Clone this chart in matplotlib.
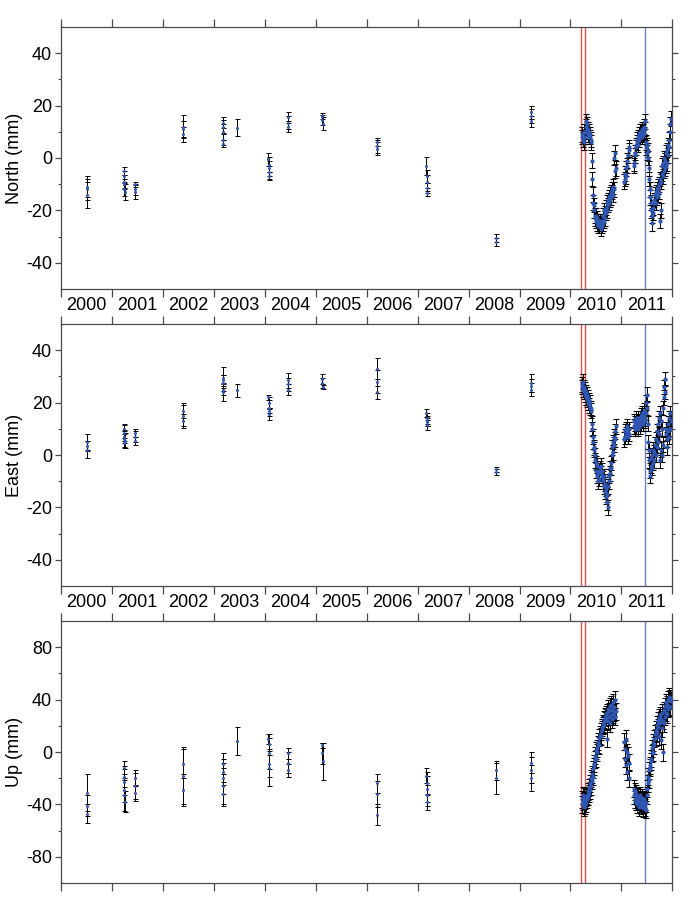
import numpy             as np
import matplotlib.pyplot as plt


# Campaign epochs (decimal years), shared by the three components
t_camp = [2000.509, 2000.512, 2000.515,
          2001.233, 2001.236, 2001.239, 2001.242, 2001.245, 2001.248,
          2001.447, 2001.450, 2001.453,
          2002.387, 2002.390, 2002.393,
          2003.172, 2003.175, 2003.178, 2003.181, 2003.184,
          2003.458,
          2004.072, 2004.075, 2004.078, 2004.081, 2004.084,
          2004.447, 2004.450, 2004.453,
          2005.127, 2005.130, 2005.133,
          2006.197, 2006.200, 2006.203,
          2007.172, 2007.175, 2007.178, 2007.181, 2007.184,
          2008.538, 2008.541,
          2009.227, 2009.230, 2009.233]

# Continuous station epochs (regular sampling)
t_seg_a  = np.round(np.arange(2010.22, 2010.895, 0.01), 2)
t_seg_b1 = np.round(np.arange(2011.06, 2011.155, 0.01), 2)
t_seg_b2 = np.round(np.arange(2011.24, 2011.975, 0.01), 2)

# North (mm)
north_camp = [-11, -14, -12,
              -5, -7, -9, -10, -12, -13,
              -10, -12, -13,
              12, 11, 9,
              13.5, 12, 10, 7, 5.5,
              11.6,
              -0.5, -2.5, -4, -5.5, -7,
              15.5, 13.5, 12,
              16, 14.5, 13,
              6, 4.5, 3.5,
              -3, -7, -9, -11.5, -13.5,
              -30.5, -32,
              17.5, 16, 14]
north_camp_err = [4, 5, 4,
                  1.5, 2, 2.5, 2, 2.5, 3,
                  1, 2, 2.5,
                  4.5, 3, 3,
                  2, 2.5, 3, 2, 1.5,
                  3.2,
                  2.5, 3, 3, 2.5, 1.5,
                  2, 2.5, 2,
                  1, 2, 2.5,
                  1.5, 2.5, 2.5,
                  3.5, 2.5, 2.5, 2, 1,
                  1.5, 1.5,
                  2.5, 2.5, 2]
north_a = [8, 9, 7, 8, 10, 6, 8,
           10, 12, 14, 11, 13, 11, 9, 10, 8, 9,
           8, 7, 6, -1, -8, -14, -17, -18, -20, -22,
           -23, -24, -22, -25, -23, -26, -24, -25, -26, -24,
           -27, -25, -26, -24, -25, -22, -24, -20, -23, -21,
           -19, -21, -17, -20, -18, -16, -15, -17, -14, -16,
           -13, -15, -12, -13, -11, -14, -12, 0, -5, 2,
           -4]
north_b1 = [-9, -8, -6, -7, -4, -3, -1, 1, 3, 4]
north_b2 = [-2, -3, 1, 2, 4,
            5, 6, 7, 5, 8, 7, 9, 8, 10, 9,
            10, 8, 11, 9, 10, 12, 9, 11, 14,
            6, 4, 5, 2, 3, 0,
            -4, -8, -12, -15, -17,
            -20, -22, -25, -19, -21, -17,
            -16, -14, -17, -13, -15, -12, -14, -11, -13,
            -10, -24, -8, -20, -9,
            -6, -3, -7, -2, -5, 0, -4, -1, 2, -3,
            3, -2, 5, 1, 7,
            4, 10, 13, 15]

# East (mm)
east_camp = [5, 3.5, 2,
             10, 8.5, 7, 6, 4.5, 5.5,
             8.5, 7, 5.5,
             17, 15, 13,
             29.5, 28.5, 27.5, 25, 24,
             24.8,
             22, 20, 18, 17, 15.5,
             28.5, 27, 25,
             29, 27.5, 26,
             33, 28, 24,
             16, 14, 12.5, 11.5, 13,
             -5.5, -6.5,
             27.5, 26.5, 25]
east_camp_err = [3, 2, 3.2,
                 2, 3, 2.5, 3, 2, 3,
                 1.5, 2, 1.5,
                 3, 4, 2.5,
                 4, 2, 3, 2, 3.5,
                 2.5,
                 1, 2, 3, 1, 2,
                 3, 2.5, 2,
                 2, 2, 0.8,
                 4, 4.5, 2.5,
                 1.5, 2, 1.5, 2, 2,
                 1, 1,
                 3.5, 2.5, 2.5]
east_a = [27, 26, 28, 25, 26, 24,
          25, 23, 24, 22, 23, 21, 22,
          20, 21, 19, 20, 18, 17, 18,
          12, 10, 7, 5, 3,
          2, 0, -2,
          -3, -6, -4, -8, -7, -10, -6, -9,
          -5, -7, -4, -8, -6, -9,
          -10, -12, -8, -14, -11, -16, -13, -18, -15, -20,
          -12, -8, -10, -5, -7, -3, -5,
          0, 3, 1, 5, 4, 7, 6, 9, 11]
east_b1 = [6, 9, 7, 10, 8, 11, 9, 7, 10, 8]
east_b2 = [11, 13, 10, 12, 14, 11, 13, 12, 10, 14, 12, 13, 11, 14, 12,
           15, 13, 16, 14, 12, 15, 17, 14, 13,
           16, 20, 23, 18, 12, 5, 2, -2, -6, -8,
           -4, -1, -5, 0, -3, 2, -2, 1,
           4, 0, 6, 3, 9, 5, 12, 8,
           14, -2, 16, 2, 13, 0, 10, 4,
           18, 22, 26, 29, 24, 8, 10,
           6, 3, 9, 12, 7, 14, 10, 16, 13]

# Up (mm)
up_camp = [-31, -41, -47,
           -12, -19, -23, -29, -33, -38,
           -20, -26, -31,
           -9, -18, -29,
           -9, -15, -20, -26, -32,
           8.5,
           10, 6, -1, -9, -12,
           -1, -8, -14,
           5, -1, -7,
           -24, -32, -48,
           -18, -24, -28, -33, -38,
           -14, -20,
           -8, -14, -20]
up_camp_err = [14, 8, 7,
               5, 8, 10, 9, 12, 8,
               6, 10, 6,
               11, 22, 12,
               8, 10, 12, 14, 9,
               10.7,
               4, 8, 12, 10, 14,
               4, 8, 5,
               2, 8, 14,
               7, 10, 8,
               6, 9, 10, 8, 6,
               7, 12,
               8, 10, 10]
up_a = [-36, -40, -33, -38, -42, -34, -37, -41, -35, -39, -33, -36,
        -34, -30, -32, -27, -29, -24, -26, -20, -22, -17, -19,
        -13, -9, -11, -6, -3, -5, 1, 3, 0, 6, 8, 5, 11,
        13, 16, 12, 19, 17, 22, 20, 25, 21, 27, 24, 29, 26,
        10, 30, 24, 33, 27, 31, 22, 35, 28, 36, 25, 32, 29, 38, 30, 34,
        27, 40, 31]
up_b1 = [8, 2, -5, 10, -10, 0, -15, -3, -8, -20]
up_b2 = [-28, -33, -30, -36, -32, -38, -34, -40, -35, -37, -42, -36, -39,
         -33, -38, -41, -35, -39, -43, -37, -40, -36, -42, -38, -44, -39,
         -33, -28, -24, -19, -21, -14, -10, -12, -5, -7, -1, 3, 0, 7,
         10, 5, 14, 11, 17,
         21, 15, 24, 19, 26, 12, 22, 28, 9, 25, 30, 18, 0, 24,
         32, 22, 35, 27, 38, 30, 36, 29, 40, 33, 42, 35, 41, 34, 39]

# Continuous formal errors (mm)
north_cont_err = 2.8
east_cont_err  = 2.8
up_cont_err    = 6.5

# Event markers
red_events  = [2010.21, 2010.29]
blue_events = [2011.47]
year_labels = [str(y) for y in range(2000, 2012)]

# Plotting parameters
blue_pt   = '#2f56b0'
spine_col = '#4a4a4a'

plt.rcParams['font.family'] = ['Liberation Sans', 'DejaVu Sans']
plt.rcParams['axes.unicode_minus'] = False
plt.rcParams['font.size'] = 13

t_cont = np.concatenate([t_seg_a, t_seg_b1, t_seg_b2])
panels = [('North (mm)',
           north_camp, north_camp_err, north_a + north_b1 + north_b2,
           north_cont_err, (-50, 50), 20, 10, True),
          ('East (mm)',
           east_camp, east_camp_err, east_a + east_b1 + east_b2,
           east_cont_err, (-50, 50), 20, 10, True),
          ('Up (mm)',
           up_camp, up_camp_err, up_a + up_b1 + up_b2,
           up_cont_err, (-100, 100), 40, 20, False)]
bottoms = [0.6828, 0.3567, 0.0307]

fig = plt.figure(figsize=(6.85, 9.11), dpi=100)
for (label, camp, camp_err, cont, cont_err, ylim, major, minor,
     show_years), bottom in zip(panels, bottoms):
    ax = fig.add_axes([0.0891, bottom, 0.8924, 0.2876])

    #       Event lines
    for x in red_events:
        ax.axvline(x, color='#e2524c', lw=1.0, zorder=1)
    for x in blue_events:
        ax.axvline(x, color='#6c80c4', lw=1.0, zorder=1)

    #       Campaign data with error bars
    ax.errorbar(t_camp, camp, yerr=camp_err, fmt='none', ecolor='black',
                elinewidth=0.7, capsize=1.8, capthick=0.7, zorder=2)
    ax.plot(t_camp, camp, 'o', ms=2.2, mew=0, color=blue_pt, zorder=3)

    #       Continuous data with error bars
    ax.errorbar(t_cont, cont, yerr=cont_err, fmt='none', ecolor='black',
                elinewidth=0.7, capsize=2.0, capthick=0.8, zorder=2)
    ax.plot(t_cont, cont, 'o', ms=3.0, mew=0, color=blue_pt, zorder=3)

    #       Axes limits and ticks
    ax.set_xlim(2000, 2012)
    ax.set_ylim(*ylim)
    ax.set_xticks(range(2000, 2013))
    ax.set_xticklabels([])
    ax.set_xticks(np.arange(2000.5, 2012, 1), minor=True)
    if show_years:
        ax.set_xticklabels(year_labels, minor=True)
    ax.set_yticks(np.arange(-2 * major, 2 * major + 1, major))
    ax.set_yticks(np.arange(ylim[0] + minor, ylim[1], minor), minor=True)
    ax.tick_params(axis='x', which='major', direction='out', length=5.5,
                   width=0.9, color=spine_col, top=True, bottom=True)
    ax.tick_params(axis='x', which='minor', length=0, pad=6,
                   labelsize=13)
    ax.tick_params(axis='y', which='major', direction='out', length=4.5,
                   width=0.9, color=spine_col, left=True, right=True,
                   labelsize=13, pad=2)
    ax.tick_params(axis='y', which='minor', direction='out', length=2.5,
                   width=0.8, color=spine_col, left=True, right=True)
    for s in ax.spines.values():
        s.set_color(spine_col)
        s.set_linewidth(0.9)
    ax.set_ylabel(label, fontsize=13, labelpad=2)

fig.savefig('out.png', dpi=100)
